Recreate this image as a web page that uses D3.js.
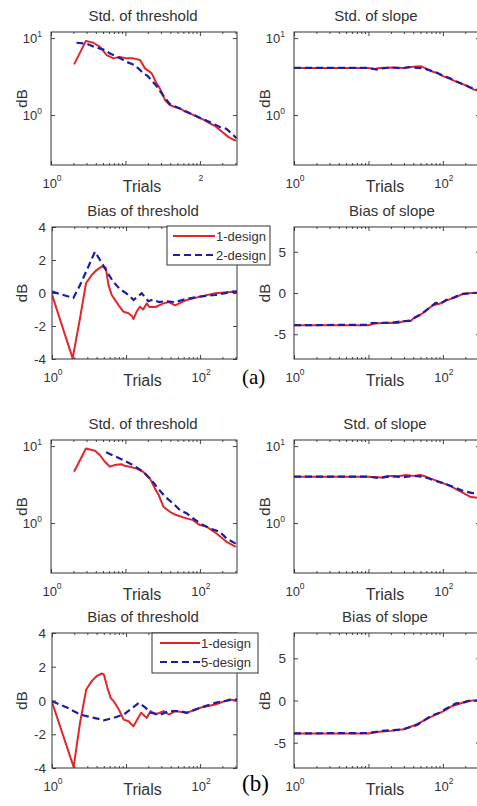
<!DOCTYPE html>
<html>
<head>
<meta charset="utf-8">
<script src="https://cdn.jsdelivr.net/npm/d3@7"></script>
<style>
  body { margin: 0; background: #fff; }
  svg { display: block; }
  text { font-family: "Liberation Sans", Arial, sans-serif; fill: #333; }
</style>
</head>
<body>
<div id="my_dataviz"></div>
<script>
// ---- data: [trials, dB] ----
const trialDomain = [1, 315];
const stdDomain = [0.224, 12];
const biasThrDomain = [-4, 4];
const biasSlopeDomain = [-8, 8];
const logTickValues = [1, 10];
const trialLabelValues = [1, 100];
const biasThrTicks = [-4, -2, 0, 2, 4];
const biasSlopeTicks = [-5, 0, 5];
const legendA = ["1-design", "2-design"];
const legendB = ["1-design", "5-design"];

// (a) 1-design vs 2-design
const stdThrA1 = [[2.04,4.55],[2.95,9.2],[3.7,8.7],[4.55,7.7],[5.6,6.0],[6.9,5.45],[8.4,5.7],[10.4,5.45],[12.7,5.45],[15.7,5.2],[18.3,4.04],[22.4,3.5],[26.2,2.58],[29,2.22],[34,1.57],[39.5,1.35],[45,1.28],[54,1.22],[62,1.12],[73,1.05],[85,0.98],[100,0.91],[115,0.86],[136,0.78],[160,0.72],[185,0.64],[210,0.58],[240,0.52],[270,0.49],[305,0.46]];
const stdThrA2 = [[2.2,8.7],[2.95,8.5],[3.8,7.7],[5.3,7.0],[6.2,6.3],[7.5,5.8],[9,5.3],[10.4,4.9],[13,4.5],[15.5,3.9],[17.3,3.5],[20,3.2],[26,2.4],[32,1.8],[39,1.4],[50,1.25],[70,1.08],[100,0.92],[140,0.8],[185,0.7],[228,0.66],[280,0.55],[310,0.5]];
const stdSlopeA1 = [[1,4.1],[5,4.1],[10,4.1],[12,3.95],[14,4.1],[20,4.15],[30,4.1],[40,4.25],[50,4.3],[57,4.1],[70,3.7],[85,3.5],[100,3.2],[120,3.0],[140,2.8],[170,2.6],[200,2.45],[257,2.15],[320,2.05]];
const stdSlopeA2 = [[1,4.1],[10,4.1],[13,3.9],[15,4.05],[21,4.15],[28,4.05],[35,4.2],[45,4.1],[55,4.05],[65,3.85],[80,3.6],[100,3.25],[125,3.0],[150,2.75],[180,2.55],[230,2.3],[320,2.1]];
const biasThrA1 = [[1,-0.1],[1.9,-3.96],[2.39,-1.53],[2.88,0.59],[3.44,1.09],[4.0,1.39],[4.7,1.6],[5.3,1.55],[5.8,0.48],[6.4,-0.12],[7.1,-0.42],[7.9,-0.73],[9.2,-1.13],[10.8,-1.23],[12,-1.4],[12.6,-1.58],[13.9,-1.13],[15.4,-0.83],[17,-1.0],[19,-0.63],[20.6,-0.85],[25,-0.85],[32,-0.63],[38,-0.55],[46,-0.75],[66,-0.42],[100,-0.22],[160,-0.02],[280,0.08],[315,0.05]];
const biasThrA2 = [[1,0.08],[1.42,-0.12],[1.94,-0.3],[2.39,0.48],[3.1,1.6],[3.8,2.5],[4.45,2.0],[5.5,1.3],[6.7,0.69],[8.1,0.28],[10.8,-0.12],[12.6,-0.42],[14.5,-0.2],[16.3,-0.02],[18,-0.25],[20,-0.5],[23,-0.4],[28,-0.55],[33,-0.5],[46,-0.55],[66,-0.35],[100,-0.22],[160,-0.12],[280,0.08],[315,0.1]];
const biasSlopeA1 = [[1,-3.9],[5,-3.9],[10,-3.9],[12,-3.7],[18,-3.6],[25,-3.65],[30,-3.4],[37,-3.4],[40,-3.1],[49,-2.7],[60,-2.1],[73,-1.5],[90,-1.3],[112,-0.9],[150,-0.5],[185,-0.1],[250,0.0],[320,0.0]];
const biasSlopeA2 = [[1,-3.9],[10,-3.85],[11,-3.65],[20,-3.6],[28,-3.45],[36,-3.35],[42,-2.95],[50,-2.6],[58,-2.2],[70,-1.6],[80,-1.2],[95,-1.25],[110,-0.85],[140,-0.55],[175,-0.15],[250,0.0],[320,0.05]];

// (b) 1-design vs 5-design
const stdThrB1 = [[2.04,4.64],[2.95,9.3],[3.9,8.7],[4.55,7.6],[5.3,6.25],[6.2,5.4],[7.1,5.66],[8.8,5.8],[10,5.5],[11.5,5.4],[14.1,5.1],[17.3,4.64],[21.3,3.8],[24.9,2.8],[28,2.31],[32.3,1.63],[39.5,1.4],[48,1.27],[66,1.15],[81,1.09],[100,0.94],[122,0.9],[167,0.73],[228,0.57],[303,0.49]];
const stdThrB2 = [[5.5,8.3],[8.4,6.9],[12.7,5.66],[17.3,4.64],[22.4,3.6],[27.5,2.8],[34,2.2],[43.6,1.8],[54,1.47],[66,1.34],[100,0.99],[136,0.85],[185,0.77],[228,0.63],[303,0.54]];
const stdSlopeB1 = [[1,4.0],[5,4.0],[10,4.0],[15,3.9],[18,4.1],[25,4.05],[32,4.2],[40,4.1],[50,4.2],[57,4.05],[70,3.75],[85,3.5],[100,3.3],[125,3.05],[150,2.75],[190,2.45],[230,2.2],[320,2.1]];
const stdSlopeB2 = [[1,4.0],[10,4.0],[14,3.85],[20,4.05],[30,3.95],[40,4.1],[52,4.0],[62,3.85],[75,3.6],[95,3.35],[120,3.1],[150,2.85],[190,2.6],[250,2.45],[320,2.4]];
const biasThrB1 = [[1,-0.1],[1.96,-3.94],[2.39,-1.33],[2.9,0.65],[3.44,1.15],[4.0,1.44],[4.7,1.6],[5.0,1.55],[5.6,0.75],[6.2,0.15],[6.8,-0.04],[8.0,-0.53],[9.3,-1.13],[10.8,-1.23],[12.6,-1.53],[15,-0.93],[16,-0.73],[19,-1.03],[21.5,-0.63],[25,-0.83],[32,-0.63],[38,-0.83],[46,-0.63],[66,-0.73],[100,-0.43],[160,-0.24],[250,0.06],[315,0.0]];
const biasThrB2 = [[1,-0.04],[1.62,-0.43],[2.39,-0.83],[3.7,-1.03],[5.0,-1.17],[6.8,-1.03],[9.3,-0.83],[12.1,-0.44],[15,-0.14],[18.4,-0.44],[21.6,-0.73],[29,-0.83],[38,-0.63],[54,-0.63],[66,-0.73],[100,-0.43],[160,-0.14],[280,0.06],[315,0.05]];
const biasSlopeB1 = [[1,-3.9],[10,-3.9],[14,-3.7],[20,-3.6],[30,-3.4],[40,-3.0],[50,-2.6],[60,-2.2],[75,-1.8],[90,-1.5],[110,-1.1],[130,-0.7],[160,-0.45],[200,-0.15],[250,0.0],[320,0.0]];
const biasSlopeB2 = [[1,-3.9],[10,-3.85],[15,-3.6],[22,-3.5],[28,-3.45],[35,-3.2],[45,-2.9],[55,-2.4],[70,-1.8],[90,-1.45],[105,-1.1],[130,-0.6],[150,-0.35],[180,-0.3],[220,-0.05],[320,0.0]];

// ---- layout ----
const W = 477, H = 806;
const red = "#e3262a", blue = "#1d1da6";

const panels = [
  {x: 51, y: 32, w: 186, h: 133, title: "Std. of threshold", tx: 143, kind: "std", a: stdThrA1, b: stdThrA2, only2: true},
  {x: 294, y: 32, w: 186, h: 133, title: "Std. of slope", tx: 376, kind: "std", a: stdSlopeA1, b: stdSlopeA2},
  {x: 52, y: 227, w: 185, h: 132, title: "Bias of threshold", tx: 143, kind: "thr", a: biasThrA1, b: biasThrA2,
    legend: {x: 167, y: 226, w: 103, h: 39, l0: 173, l1: 215, names: legendA}},
  {x: 294, y: 227, w: 186, h: 132, title: "Bias of slope", tx: 392, kind: "slope", a: biasSlopeA1, b: biasSlopeA2},
  {x: 51, y: 440, w: 186, h: 133, title: "Std. of threshold", tx: 143, kind: "std", a: stdThrB1, b: stdThrB2},
  {x: 294, y: 440, w: 186, h: 133, title: "Std. of slope", tx: 385, kind: "std", a: stdSlopeB1, b: stdSlopeB2},
  {x: 52, y: 633, w: 185, h: 135, title: "Bias of threshold", tx: 143, kind: "thr", a: biasThrB1, b: biasThrB2,
    legend: {x: 152, y: 633, w: 106, h: 40, l0: 160, l1: 200, names: legendB}},
  {x: 294, y: 633, w: 186, h: 135, title: "Bias of slope", tx: 385, kind: "slope", a: biasSlopeB1, b: biasSlopeB2}
];

const svg = d3.select("#my_dataviz")
  .append("svg")
    .attr("width", W)
    .attr("height", H);

panels.forEach(function(p, i) {
  const g = svg.append("g").attr("transform", "translate(" + p.x + "," + p.y + ")");

  const x = d3.scaleLog().domain(trialDomain).range([0, p.w]);
  let y;
  if (p.kind === "std") y = d3.scaleLog().domain(stdDomain).range([p.h, 0]);
  else if (p.kind === "thr") y = d3.scaleLinear().domain(biasThrDomain).range([p.h, 0]);
  else y = d3.scaleLinear().domain(biasSlopeDomain).range([p.h, 0]);

  // clip
  g.append("clipPath").attr("id", "clip" + i)
    .append("rect").attr("width", p.w).attr("height", p.h);

  // ticks (inward, on all four sides)
  const majorX = [1, 10, 100];
  const minorX = x.ticks().filter(d => majorX.indexOf(d) < 0);
  function strip(sel) { sel.select(".domain").remove(); sel.selectAll("line").attr("stroke", "#444"); }
  g.append("g").attr("transform", "translate(0," + p.h + ")")
    .call(d3.axisBottom(x).tickValues(majorX).tickSize(-4).tickFormat("")).call(strip);
  g.append("g").attr("transform", "translate(0," + p.h + ")")
    .call(d3.axisBottom(x).tickValues(minorX).tickSize(-2).tickFormat("")).call(strip);
  g.append("g")
    .call(d3.axisTop(x).tickValues(majorX).tickSize(-4).tickFormat("")).call(strip);
  g.append("g")
    .call(d3.axisTop(x).tickValues(minorX).tickSize(-2).tickFormat("")).call(strip);

  const yTicks = p.kind === "std" ? logTickValues : (p.kind === "thr" ? biasThrTicks : biasSlopeTicks);
  g.append("g").call(d3.axisLeft(y).tickValues(yTicks).tickSize(-4).tickFormat("")).call(strip);
  g.append("g").attr("transform", "translate(" + p.w + ",0)")
    .call(d3.axisRight(y).tickValues(yTicks).tickSize(-4).tickFormat("")).call(strip);

  // curves
  const line = d3.line().x(d => x(d[0])).y(d => y(d[1]));
  const curves = g.append("g").attr("clip-path", "url(#clip" + i + ")");
  curves.append("path").datum(p.a)
    .attr("fill", "none").attr("stroke", red).attr("stroke-width", 2)
    .attr("stroke-linejoin", "round").attr("d", line);
  curves.append("path").datum(p.b)
    .attr("fill", "none").attr("stroke", blue).attr("stroke-width", 2.2)
    .attr("stroke-dasharray", "7,4").attr("d", line);

  // box
  g.append("rect").attr("width", p.w).attr("height", p.h)
    .attr("fill", "none").attr("stroke", "#333").attr("stroke-width", 1);

  // y tick labels
  if (p.kind === "std") {
    yTicks.forEach(function(v) {
      const t = g.append("text")
        .attr("x", -9).attr("y", y(v) + 5)
        .attr("text-anchor", "end").style("font-size", "13px");
      t.append("tspan").text("10");
      t.append("tspan").attr("dy", -6).style("font-size", "8.5px").text(Math.round(Math.log10(v)));
    });
  } else {
    yTicks.forEach(function(v) {
      g.append("text")
        .attr("x", p.kind === "thr" ? -6 : -8).attr("y", y(v) + 5)
        .attr("text-anchor", "end").style("font-size", "13.5px")
        .text(v);
    });
  }

  // x tick labels
  trialLabelValues.forEach(function(v) {
    const t = g.append("text")
      .attr("x", x(v) + 1).attr("y", p.h + 23)
      .attr("text-anchor", "middle").style("font-size", "13px");
    if (!(p.only2 && v === 100)) t.append("tspan").text("10");
    t.append("tspan").attr("dy", -7).style("font-size", "8.5px").text(Math.round(Math.log10(v)));
  });

  // axis titles
  g.append("text")
    .attr("x", p.w / 2 - 2).attr("y", p.h + 27)
    .attr("text-anchor", "middle").style("font-size", "16px")
    .text("Trials");
  g.append("text")
    .attr("transform", "translate(" + (p.x < 200 ? 22 - p.x + 5 : 265 - p.x + 5) + "," + (p.h / 2) + ") rotate(-90)")
    .attr("text-anchor", "middle").style("font-size", "15px")
    .text("dB");
  svg.append("text")
    .attr("x", p.tx).attr("y", p.y - 11)
    .attr("text-anchor", "middle").style("font-size", "15px")
    .text(p.title);

  // legend
  if (p.legend) {
    const L = p.legend;
    const lg = svg.append("g");
    lg.append("rect").attr("x", L.x).attr("y", L.y).attr("width", L.w).attr("height", L.h)
      .attr("fill", "#fff").attr("stroke", "#333").attr("stroke-width", 1);
    [red, blue].forEach(function(c, k) {
      const yy = L.y + 10 + k * 19;
      lg.append("line").attr("x1", L.l0).attr("x2", L.l1).attr("y1", yy).attr("y2", yy)
        .attr("stroke", c).attr("stroke-width", k ? 2.2 : 2)
        .attr("stroke-dasharray", k ? "7,4" : null);
      lg.append("text").attr("x", L.l1 + 1).attr("y", yy + 5)
        .style("font-size", "13px").text(L.names[k]);
    });
  }
});

// figure part labels
svg.append("text").attr("x", 242).attr("y", 384)
  .style("font-family", "'Liberation Serif', 'Times New Roman', serif").style("font-size", "21px").style("fill", "#000")
  .text("(a)");
svg.append("text").attr("x", 242).attr("y", 791)
  .style("font-family", "'Liberation Serif', 'Times New Roman', serif").style("font-size", "23px").style("fill", "#000")
  .text("(b)");
</script>
</body>
</html>
